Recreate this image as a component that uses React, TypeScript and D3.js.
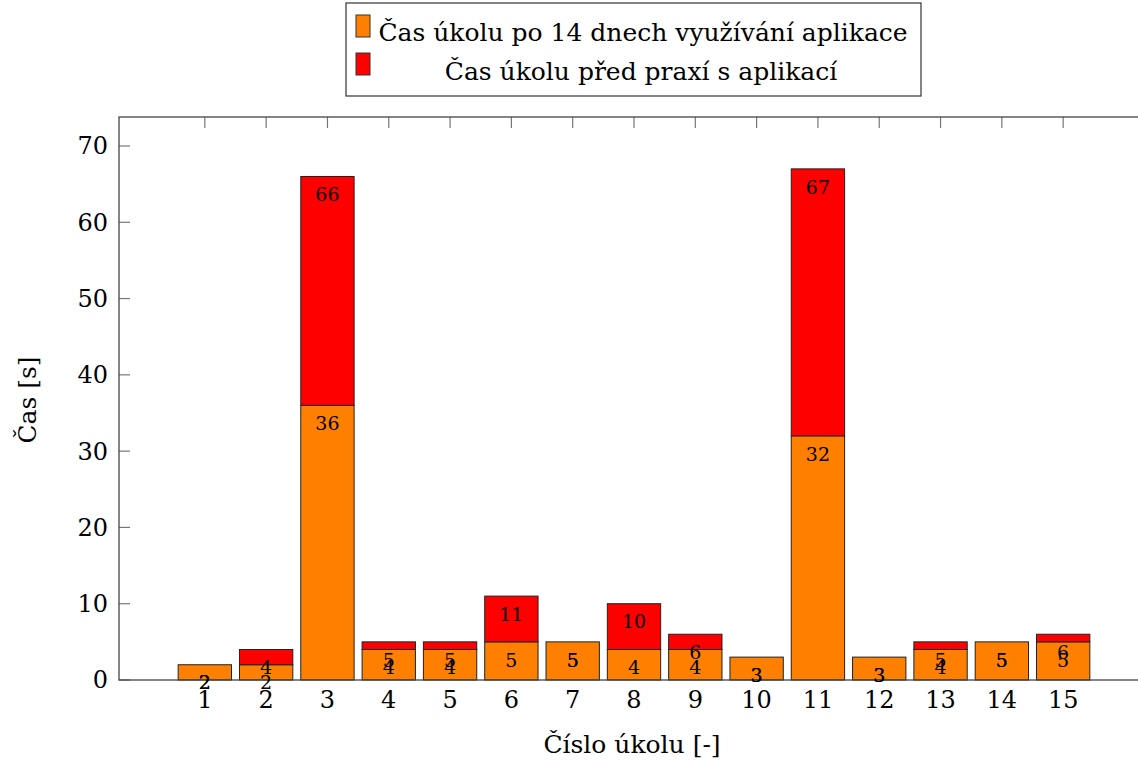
import React from "react";
import * as d3 from "d3";

const categories = [1, 2, 3, 4, 5, 6, 7, 8, 9, 10, 11, 12, 13, 14, 15];
const after14Days = [2, 2, 36, 4, 4, 5, 5, 4, 4, 3, 32, 3, 4, 5, 5];
const beforePractice = [2, 4, 66, 5, 5, 11, 5, 10, 6, 3, 67, 3, 5, 5, 6];
const yTicks = [0, 10, 20, 30, 40, 50, 60, 70];
const legendLabels = [
  "Čas úkolu po 14 dnech využívání aplikace",
  "Čas úkolu před praxí s aplikací",
];
const seriesColors = ["#ff8000", "#ff0000"];
const xLabel = "Číslo úkolu [-]";
const yLabel = "Čas [s]";

const W = 1138;
const H = 760;
const FONT = "DejaVu Serif";

export default function App() {
  const left = 119;
  const right = 1149;
  const top = 117;
  const bottom = 680;
  const x = d3.scaleLinear().domain([-0.4, 16.4]).range([left, right]);
  const y = d3.scaleLinear().domain([0, 73.8]).range([bottom, top]);
  const half = 0.435;
  const axisColor = "#444";
  const tickLen = 11;

  return (
    <div style={{ position: "absolute", left: 0, top: 0 }}>
      <svg width={W} height={H} style={{ display: "block" }} fontFamily={FONT}>
        <rect x={0} y={0} width={W} height={H} fill="#fff" />
        {categories.map((c) => (
          <g key={"xt" + c}>
            <line x1={x(c)} x2={x(c)} y1={top} y2={top + tickLen} stroke="#777" strokeWidth={1.2} />
            <line x1={x(c)} x2={x(c)} y1={bottom} y2={bottom - tickLen} stroke="#777" strokeWidth={1.2} />
          </g>
        ))}
        {yTicks.map((t) => (
          <g key={"yt" + t}>
            <line x1={left} x2={left + tickLen} y1={y(t)} y2={y(t)} stroke="#777" strokeWidth={1.2} />
            <line x1={right} x2={right - tickLen} y1={y(t)} y2={y(t)} stroke="#777" strokeWidth={1.2} />
            <text x={108} y={y(t)} dy="0.35em" textAnchor="end" fontSize={24} fontFamily={FONT} fill="#000">
              {t}
            </text>
          </g>
        ))}
        {categories.map((c, i) => {
          const a = after14Days[i];
          const b = beforePractice[i];
          return (
            <g key={"bar" + c}>
              <rect
                x={x(c - half)}
                width={x(c + half) - x(c - half)}
                y={y(a)}
                height={y(0) - y(a)}
                fill={seriesColors[0]}
                stroke="#222"
                strokeWidth={1}
              />
              {b > a && (
                <rect
                  x={x(c - half)}
                  width={x(c + half) - x(c - half)}
                  y={y(b)}
                  height={y(a) - y(b)}
                  fill={seriesColors[1]}
                  stroke="#222"
                  strokeWidth={1}
                />
              )}
            </g>
          );
        })}
        <rect x={left} y={top} width={right - left} height={bottom - top} fill="none" stroke={axisColor} strokeWidth={1.3} />
        {categories.map((c, i) => (
          <g key={"lab" + c} fontSize={19} textAnchor="middle" fill="#000" fontFamily={FONT}>
            <text x={x(c)} y={y(after14Days[i]) + 18} dy="0.35em">
              {after14Days[i]}
            </text>
            <text x={x(c)} y={y(beforePractice[i]) + 18} dy="0.35em">
              {beforePractice[i]}
            </text>
          </g>
        ))}
        {categories.map((c) => (
          <text key={"xl" + c} x={x(c)} y={708} textAnchor="middle" fontSize={24} fontFamily={FONT} fill="#000">
            {c}
          </text>
        ))}
        <text x={632} y={753} textAnchor="middle" fontSize={25} fontFamily={FONT} fill="#000">
          {xLabel}
        </text>
        <text
          transform={`translate(36, 400) rotate(-90)`}
          textAnchor="middle"
          fontSize={25}
          fontFamily={FONT}
          fill="#000"
        >
          {yLabel}
        </text>
        <rect x={346} y={3} width={575} height={93} fill="#fff" stroke="#333" strokeWidth={1.2} />
        <rect x={356} y={15} width={14} height={22} fill={seriesColors[0]} stroke="#333" strokeWidth={1} />
        <rect x={356} y={53} width={14} height={22} fill={seriesColors[1]} stroke="#333" strokeWidth={1} />
        <text x={643} y={41} textAnchor="middle" fontSize={25} fontFamily={FONT} fill="#000">
          {legendLabels[0]}
        </text>
        <text x={641} y={80} textAnchor="middle" fontSize={25} fontFamily={FONT} fill="#000">
          {legendLabels[1]}
        </text>
      </svg>
    </div>
  );
}
